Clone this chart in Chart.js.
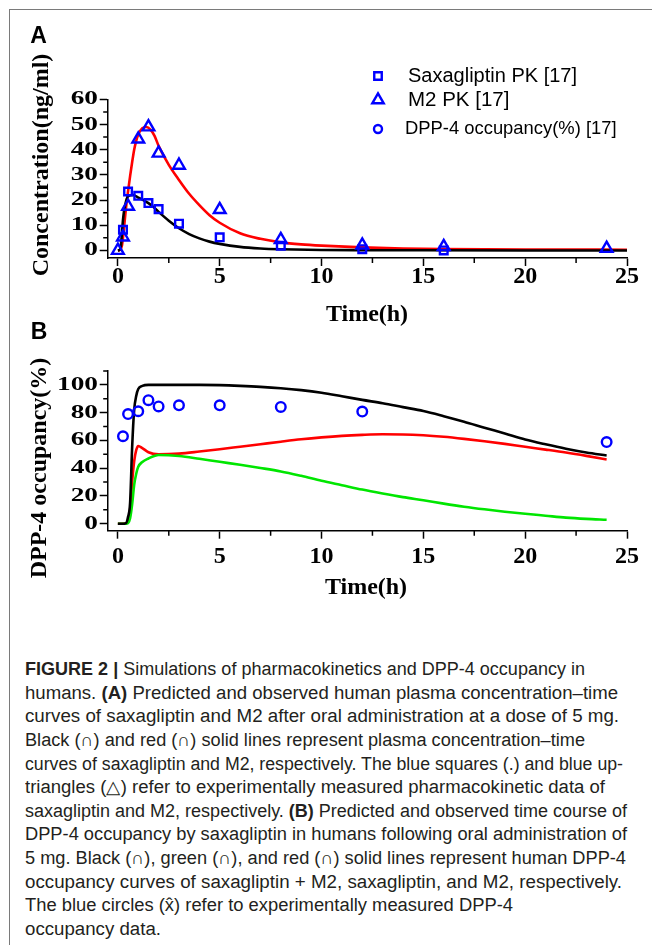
<!DOCTYPE html>
<html>
<head>
<meta charset="utf-8">
<script src="https://cdn.jsdelivr.net/npm/chart.js@4.4.1/dist/chart.umd.min.js"></script>
<style>
  html, body { margin: 0; padding: 0; background: #fff; }
  body { width: 652px; height: 945px; position: relative; overflow: hidden; }
  canvas { position: absolute; left: 0; }
  #chartA { top: 0; }
  #chartB { top: 300px; }
  .frame-top { position: absolute; left: 9px; top: 9px; width: 643px; height: 1px; background: #7a7a7a; }
  .frame-left { position: absolute; left: 9px; top: 9px; width: 1px; height: 936px; background: #7a7a7a; }
  .cap { position: absolute; left: 25px; white-space: nowrap; font-family: "Liberation Sans", Arial, sans-serif;
         font-size: 18px; line-height: 24px; color: #231f20; transform-origin: 0 50%; }
</style>
</head>
<body>
<div class="frame-top"></div>
<div class="frame-left"></div>
<canvas id="chartA" width="652" height="340"></canvas>
<canvas id="chartB" width="652" height="310"></canvas>
<div id="caption"></div>

<script>
// ---- tick labels ----
const timeTicks = [0, 5, 10, 15, 20, 25];
const timeMinor = [2.5, 7.5, 12.5, 17.5, 22.5];
const concTicks = [0, 10, 20, 30, 40, 50, 60];
const concMinor = [5, 15, 25, 35, 45, 55];
const occTicks = [0, 20, 40, 60, 80, 100];
const occMinor = [10, 30, 50, 70, 90, 110];

// ---- panel A: simulated curves ----
const saxaSimTime = [0, 0.1, 0.15, 0.2, 0.25, 0.3, 0.4, 0.5, 0.75, 1, 1.25, 1.5, 1.75, 2, 2.5, 3, 3.5, 4, 4.5, 5, 6, 7, 8, 10, 12, 15, 20, 25];
const saxaSimConc = [0, 0.3, 2, 7, 12, 15.5, 19.5, 21.5, 22, 21, 20, 18.8, 17.2, 15.3, 11.8, 8.8, 6.5, 4.8, 3.5, 2.6, 1.4, 0.8, 0.5, 0.2, 0.1, 0.05, 0, 0];
const m2SimTime = [0, 0.1, 0.2, 0.3, 0.4, 0.5, 0.6, 0.7, 0.8, 0.9, 1, 1.2, 1.4, 1.6, 1.8, 2, 2.5, 3, 3.5, 4, 4.5, 5, 6, 7, 8, 9, 10, 12, 14, 16, 20, 25];
const m2SimConc = [0, 0.2, 2, 9, 17, 23.5, 29.5, 35, 40, 43.5, 46, 48.5, 49, 48, 45.5, 41.5, 34, 28, 22.5, 18, 14, 11, 6.8, 4.6, 3.2, 2.4, 1.9, 1.2, 0.8, 0.6, 0.4, 0.3];

// ---- panel A: observed PK ----
const saxaObsTime = [0.25, 0.5, 1, 1.5, 2, 3, 5, 8, 12, 16];
const saxaObsConc = [8.2, 23.4, 21.7, 18.8, 16.4, 10.6, 5.2, 1.9, 0.5, 0];
const m2ObsTime = [0, 0.25, 0.5, 1, 1.5, 2, 3, 5, 8, 12, 16, 24];
const m2ObsConc = [0, 5.3, 17.5, 44.2, 49, 38.6, 33.8, 16.2, 4.3, 2.1, 1.5, 0.8];

// ---- panel B: simulated occupancy ----
const occSimTime = [0, 0.2, 0.4, 0.5, 0.6, 0.7, 0.8, 0.9, 1.0, 1.2, 1.5, 2, 3, 4, 5, 6, 7, 8, 9, 10, 11, 12, 13, 14, 15, 16, 17, 18, 19, 20, 21, 22, 23, 24];
const occTotal = [0, 0, 0.5, 5, 15, 55, 82, 92, 97, 99.3, 100, 100, 100, 100, 99.8, 99.3, 98.6, 97.6, 96.2, 94.3, 91.8, 89.2, 86.8, 84, 81.2, 77.5, 73.5, 69.2, 65, 60.7, 57.2, 54, 51.3, 49.2];
const occSaxa = [0, 0, 0, 0.5, 4, 14, 28, 36, 41, 44.5, 47, 49.5, 48.8, 46.8, 44.6, 42.5, 40.2, 37.7, 34.5, 31, 27.8, 24.6, 21.8, 19.2, 16.9, 14.5, 12.3, 10.4, 8.7, 7.2, 5.8, 4.4, 3.5, 2.9];
const occM2 = [0, 0, 0.3, 2, 10, 30, 45, 53, 56, 54.5, 51.5, 50, 50.5, 52, 53.7, 55.5, 57.3, 59.1, 60.8, 62.2, 63.3, 64, 64.4, 64.3, 63.7, 62.6, 61.1, 59.4, 57.5, 55.4, 53.4, 51.3, 48.9, 46.3];

// ---- panel B: observed occupancy ----
const occObsTime = [0.25, 0.5, 1, 1.5, 2, 3, 5, 8, 12, 24];
const occObs = [63, 79, 81, 89, 84.5, 85.3, 85.3, 84.1, 80.8, 58.8];

const BLUE = '#0000ff';
const SERIF = '"Liberation Serif", "Times New Roman", serif';
const SANS = '"Liberation Sans", Arial, sans-serif';

function pts(xs, ys) { return xs.map((x, i) => ({ x: x, y: ys[i] })); }

function curve(label, xs, ys, color) {
  return { label: label, data: pts(xs, ys), showLine: true, borderColor: color, borderWidth: 2.6,
           pointRadius: 0, cubicInterpolationMode: 'monotone', order: 1 };
}
function markers(label, xs, ys, style, r) {
  return { label: label, data: pts(xs, ys), pointStyle: style, pointRadius: r, borderWidth: 2.4,
           borderColor: BLUE, backgroundColor: 'rgba(0,0,0,0)', clip: false, order: 0 };
}

// outline marker like chart.js draws it (used for the legend)
function drawMarker(ctx, style, x, y, r) {
  ctx.beginPath();
  if (style === 'rect') {
    const s = r * Math.SQRT1_2;
    ctx.rect(x - s, y - s, 2 * s, 2 * s);
  } else if (style === 'triangle') {
    ctx.moveTo(x, y - r);
    ctx.lineTo(x + r * Math.sin(2 * Math.PI / 3), y - r * Math.cos(2 * Math.PI / 3));
    ctx.lineTo(x + r * Math.sin(4 * Math.PI / 3), y - r * Math.cos(4 * Math.PI / 3));
    ctx.closePath();
  } else {
    ctx.arc(x, y, r, 0, Math.PI * 2);
  }
  ctx.stroke();
}

// minor ticks, stretched y labels, axis titles, panel letter, legend
function decor(cfg) {
  return {
    id: 'decor',
    afterDraw(chart) {
      const ctx = chart.ctx, xs = chart.scales.x, ys = chart.scales.y, a = chart.chartArea;
      ctx.save();
      ctx.strokeStyle = '#000';
      ctx.lineWidth = 1.5;
      ctx.beginPath();
      cfg.xMinor.forEach(v => { const p = xs.getPixelForValue(v); ctx.moveTo(p, a.bottom); ctx.lineTo(p, a.bottom + 5); });
      cfg.yMinor.forEach(v => { const p = ys.getPixelForValue(v); ctx.moveTo(a.left - 4.5, p); ctx.lineTo(a.left, p); });
      ctx.stroke();

      ctx.fillStyle = '#000';
      ctx.textBaseline = 'middle';
      ctx.font = 'bold 19.5px ' + SERIF;
      ctx.textAlign = 'right';
      cfg.yTicks.forEach(v => {
        ctx.save();
        ctx.translate(98, ys.getPixelForValue(v));
        ctx.scale(1.4, 1);
        ctx.fillText(String(v), 0, 0);
        ctx.restore();
      });

      ctx.textAlign = 'center';
      ctx.font = 'bold 24px ' + SERIF;
      ctx.fillText(cfg.xTitle, cfg.xTitlePos[0], cfg.xTitlePos[1]);
      ctx.save();
      ctx.translate(cfg.yTitlePos[0], cfg.yTitlePos[1]);
      ctx.rotate(-Math.PI / 2);
      ctx.fillText(cfg.yTitle, 0, 0);
      ctx.restore();

      ctx.font = 'bold 23px ' + SANS;
      ctx.fillText(cfg.letter, cfg.letterPos[0], cfg.letterPos[1]);

      if (cfg.legend) {
        ctx.strokeStyle = BLUE;
        ctx.lineWidth = 2.4;
        ctx.textAlign = 'left';
        cfg.legend.forEach(item => {
          drawMarker(ctx, item.style, 378, item.y, item.r);
          ctx.font = item.size + 'px ' + SANS;
          ctx.fillText(item.text, item.tx, item.y);
        });
      }
      ctx.restore();
    }
  };
}

function scalesFor(yMin, yMax, yTicks, tickPad) {
  return {
    x: {
      type: 'linear', min: -0.5, max: 25,
      afterBuildTicks: s => { s.ticks = timeTicks.map(v => ({ value: v })); },
      afterFit: s => { s.height = 60; },
      grid: { drawOnChartArea: false, drawTicks: true, tickLength: 8, tickWidth: 1.5, tickColor: '#000' },
      border: { color: '#000', width: 1.5 },
      ticks: { color: '#000', padding: tickPad, maxRotation: 0, autoSkip: false, callback: v => String(v),
               font: { family: SERIF, size: 24, weight: 'bold', lineHeight: 1 } }
    },
    y: {
      type: 'linear', min: yMin, max: yMax,
      afterBuildTicks: s => { s.ticks = yTicks.map(v => ({ value: v })); },
      afterFit: s => { s.width = 60; },
      grid: { drawOnChartArea: false, drawTicks: true, tickLength: 8, tickWidth: 1.5, tickColor: '#000' },
      border: { color: '#000', width: 1.5 },
      ticks: { display: false }
    }
  };
}

const common = { responsive: false, animation: false, events: [], devicePixelRatio: 1 };

new Chart(document.getElementById('chartA'), {
  type: 'scatter',
  data: {
    datasets: [
      markers('Saxagliptin PK [17]', saxaObsTime, saxaObsConc, 'rect', 5.4),
      markers('M2 PK [17]', m2ObsTime, m2ObsConc, 'triangle', 6.8),
      curve('Saxagliptin', saxaSimTime, saxaSimConc, '#000000'),
      curve('M2', m2SimTime, m2SimConc, '#ff0000')
    ]
  },
  options: Object.assign({}, common, {
    layout: { padding: { left: 47.7, right: 25, top: 99.3, bottom: 22 } },
    plugins: { legend: { display: false }, tooltip: { enabled: false } },
    scales: scalesFor(-3, 60, concTicks, -1.3)
  }),
  plugins: [decor({
    xMinor: timeMinor, yMinor: concMinor, yTicks: concTicks,
    xTitle: 'Time(h)', xTitlePos: [367, 315],
    yTitle: 'Concentration(ng/ml)', yTitlePos: [42, 165],
    letter: 'A', letterPos: [38.5, 36.5],
    legend: [
      { style: 'rect', r: 5.3, text: 'Saxagliptin PK [17]', tx: 408, y: 76, size: 20 },
      { style: 'triangle', r: 6.6, text: 'M2 PK [17]', tx: 408, y: 100, size: 20.5 },
      { style: 'circle', r: 4, text: 'DPP-4 occupancy(%) [17]', tx: 405, y: 129, size: 18.4 }
    ]
  })]
});

new Chart(document.getElementById('chartB'), {
  type: 'scatter',
  data: {
    datasets: [
      markers('DPP-4 occupancy(%) [17]', occObsTime, occObs, 'circle', 4.8),
      curve('Saxagliptin + M2', occSimTime, occTotal, '#000000'),
      curve('Saxagliptin', occSimTime, occSaxa, '#00e600'),
      curve('M2', occSimTime, occM2, '#ff0000')
    ]
  },
  options: Object.assign({}, common, {
    layout: { padding: { left: 47.7, right: 25, top: 71, bottom: 19.3 } },
    plugins: { legend: { display: false }, tooltip: { enabled: false } },
    scales: scalesFor(-5, 110, occTicks, 6)
  }),
  plugins: [decor({
    xMinor: timeMinor, yMinor: occMinor, yTicks: occTicks,
    xTitle: 'Time(h)', xTitlePos: [366, 288],
    yTitle: 'DPP-4 occupancy(%)', yTitlePos: [40, 168],
    letter: 'B', letterPos: [39, 32.5]
  })]
});

// ---- caption, one line per div, stretched to the line ends of the original ----
const capLines = [
  '<b>FIGURE 2 |</b> Simulations of pharmacokinetics and DPP-4 occupancy in',
  'humans. <b>(A)</b> Predicted and observed human plasma concentration–time',
  'curves of saxagliptin and M2 after oral administration at a dose of 5 mg.',
  'Black (∩) and red (∩) solid lines represent plasma concentration–time',
  'curves of saxagliptin and M2, respectively. The blue squares (.) and blue up-',
  'triangles (△) refer to experimentally measured pharmacokinetic data of',
  'saxagliptin and M2, respectively. <b>(B)</b> Predicted and observed time course of',
  'DPP-4 occupancy by saxagliptin in humans following oral administration of',
  '5 mg. Black (∩), green (∩), and red (∩) solid lines represent human DPP-4',
  'occupancy curves of saxagliptin + M2, saxagliptin, and M2, respectively.',
  'The blue circles (x̂) refer to experimentally measured DPP-4',
  'occupancy data.'
];
const capRight = [585, 618, 619, 585, 623, 605, 627, 627, 626, 622, 513, 161];
const cap = document.getElementById('caption');
capLines.forEach((html, i) => {
  const d = document.createElement('div');
  d.className = 'cap';
  d.innerHTML = html;
  d.style.top = (669 + i * 23.6 - 11.8) + 'px';
  cap.appendChild(d);
  const w = d.getBoundingClientRect().width;
  d.style.transform = 'scaleX(' + ((capRight[i] - 25) / w).toFixed(4) + ')';
});
</script>
</body>
</html>
